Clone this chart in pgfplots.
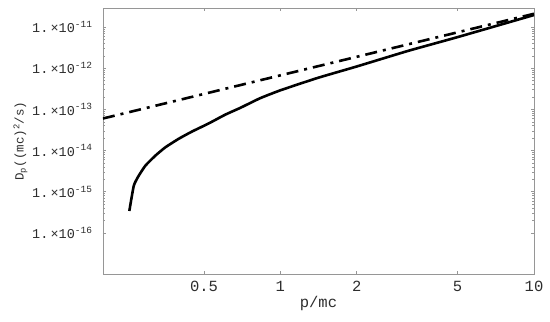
\documentclass[border=0pt]{standalone}
\usepackage{pgfplots}
\pgfplotsset{compat=1.18}
\usepackage{fontspec}
\setmainfont{Liberation Mono}
\definecolor{framegray}{RGB}{150,150,150}
\definecolor{txt}{RGB}{45,45,45}
\begin{document}
\fontsize{13pt}{15pt}\selectfont
\begin{tikzpicture}
\begin{axis}[
  name=ax,
  xmode=log, ymode=log,
  scale only axis,
  width=431pt, height=266pt,
  xmin=0.2, xmax=10,
  ymin=1e-17, ymax=2.9e-11,
  axis line style={framegray, line width=0.6pt},
  tick style={framegray, line width=0.5pt},
  major tick length=3pt, minor tick length=2pt,
  tick align=inside,
  xtick={0.5,1,2,5,10},
  xticklabels={0.5,1,2,5,10},
  ytick={1e-16,1e-15,1e-14,1e-13,1e-12,1e-11},
  yticklabels={1.\,×10\textsuperscript{-16},1.\,×10\textsuperscript{-15},1.\,×10\textsuperscript{-14},1.\,×10\textsuperscript{-13},1.\,×10\textsuperscript{-12},1.\,×10\textsuperscript{-11}},
  xticklabel style={font=\fontsize{15.5pt}{17pt}\selectfont, text=txt, yshift=-3pt},
  yticklabel style={font=\fontsize{13.5pt}{15pt}\selectfont, text=txt, xshift=-6pt},
  xlabel={p/mc},
  ylabel={D\textsubscript{p}((mc)\textsuperscript{2}/s)},
  xlabel style={font=\fontsize{15.5pt}{17pt}\selectfont, text=txt, yshift=5pt},
  ylabel style={font=\fontsize{12.5pt}{15pt}\selectfont, text=txt, yshift=-4pt},
]
\addplot[black, line width=2.6pt, smooth, tension=0.3] coordinates {
(0.254,3.4e-16) (0.2645,1.40e-15) (0.2767,2.45e-15) (0.294,4.31e-15)
(0.322,7.55e-15) (0.3525,1.20e-14) (0.3977,1.93e-14) (0.449,2.90e-14)
(0.522,4.55e-14) (0.607,7.45e-14) (0.696,1.09e-13) (0.83,1.85e-13) (1,2.9e-13)
(1.4,5.78e-13) (2,1.1e-12) (3.2,2.65e-12) (5,5.7e-12) (10,1.96e-11)};
\addplot[black, line width=2.6pt, dash pattern=on 12pt off 6pt on 3pt off 6pt] coordinates {
(0.2,6.0e-14) (1,6.7e-13) (10,2.1e-11)};
\end{axis}
\pgfresetboundingbox
\path ([xshift=-103pt,yshift=-47pt]ax.south west) rectangle ([xshift=16pt,yshift=8pt]ax.north east);
\end{tikzpicture}
\end{document}
